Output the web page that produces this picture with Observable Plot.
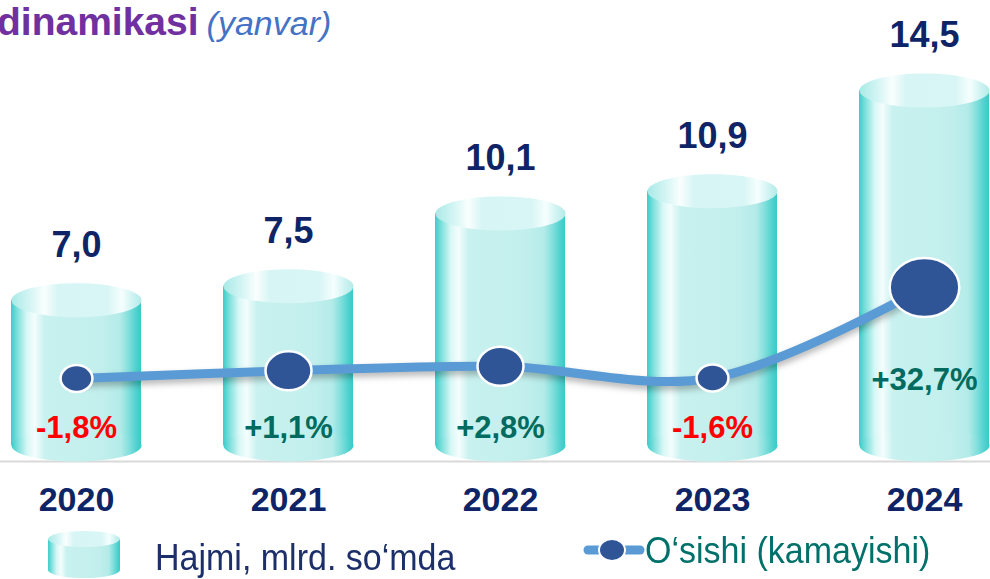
<!DOCTYPE html>
<html>
<head>
<meta charset="utf-8">
<script src="https://cdn.jsdelivr.net/npm/d3@7"></script>
<script src="https://cdn.jsdelivr.net/npm/@observablehq/plot@0.6"></script>
<style>
  html, body { margin: 0; padding: 0; background: #fff; }
  body { width: 990px; height: 579px; overflow: hidden; font-family: "Liberation Sans", Arial, sans-serif; }
  #wrap { position: relative; width: 990px; height: 579px; overflow: hidden; }
  #wrap > svg { position: absolute; left: 0; top: 0; }
  #title { position: absolute; left: -3px; top: 0px; white-space: nowrap; line-height: 44px; }
  #title .t1 { font-size: 39px; font-weight: bold; color: #7030a0; }
  #title .t2 { font-size: 34px; font-style: italic; color: #4472c4; margin-left: 8px; }
  #legend { position: absolute; left: 0; top: 520px; width: 990px; height: 59px; }
  .lg { position: absolute; white-space: nowrap; font-size: 34px; line-height: 34px; transform-origin: left center; transform: scaleY(1.1); }
  g[aria-label="line"] { filter: drop-shadow(0px 4px 3px rgba(0,0,0,0.28)); }
</style>
</head>
<body>
<div id="wrap"></div>
<script>
// ---- data ----
const years = ["2020", "2021", "2022", "2023", "2024"];
const volume = [7.0, 7.5, 10.1, 10.9, 14.5];          // Hajmi, mlrd. so'mda
const growth = [-1.8, 1.1, 2.8, -1.6, 32.7];          // O'sishi (kamayishi), %
const titleMain = "dinamikasi";
const titleSub = "(yanvar)";
const legendBars = "Hajmi, mlrd. so‘mda";
const legendLine = "O‘sishi (kamayishi)";

const data = years.map((year, i) => ({year, volume: volume[i], growth: growth[i]}));

const navy = "#0e2466";
const fmt1 = v => v.toFixed(1).replace(".", ",");
const fmtPct = v => (v > 0 ? "+" : "") + fmt1(v) + "%";

// ellipse symbol for Plot.dot (size = pi r^2)
function ellipseSymbol(kx, ky) {
  return {
    draw(ctx, size) {
      const r = Math.sqrt(size / Math.PI), rx = r * kx, ry = r * ky, k = 0.5523;
      ctx.moveTo(rx, 0);
      ctx.bezierCurveTo(rx, ry * k, rx * k, ry, 0, ry);
      ctx.bezierCurveTo(-rx * k, ry, -rx, ry * k, -rx, 0);
      ctx.bezierCurveTo(-rx, -ry * k, -rx * k, -ry, 0, -ry);
      ctx.bezierCurveTo(rx * k, -ry, rx, -ry * k, rx, 0);
      ctx.closePath();
    }
  };
}

function gradientDefs() {
  const defs = d3.create("svg:defs");
  const add = (id, stops) => {
    const g = defs.append("linearGradient").attr("id", id)
      .attr("x1", 0).attr("x2", 1).attr("y1", 0).attr("y2", 0);
    stops.forEach(([o, c]) => g.append("stop").attr("offset", o).attr("stop-color", c));
  };
  add("cylBody", [[0, "#3acdc9"], [0.05, "#7fe0dd"], [0.12, "#d6f7f5"], [0.18, "#f4fdfd"], [0.26, "#c8f1ef"],
                  [0.7, "#c2efed"], [0.84, "#b3ebe8"], [0.9, "#86e0dd"], [0.96, "#52d2cf"], [1, "#38cac6"]]);
  add("cylCap", [[0, "#a9e9e6"], [0.15, "#d6f6f5"], [0.25, "#fafefe"], [0.36, "#d6f5f4"], [0.74, "#d8f6f5"],
                 [0.85, "#f6fefe"], [0.93, "#d0f3f2"], [1, "#b2ebe8"]]);
  return defs.node();
}

const W = 990, H = 520;
const xScale = {type: "band", domain: years, range: [10, 990], paddingInner: 0.388, paddingOuter: 0, axis: null};
const yBase = 1.8;
const capRy = 17 / 65;

// ---- bars (cylinders) ----
const bars = Plot.plot({
  width: W, height: H, marginLeft: 0, marginRight: 0, marginTop: 0, marginBottom: 59,
  style: {background: "transparent", overflow: "visible"},
  x: xScale,
  y: {domain: [yBase, 14.5], range: [445, 90], axis: null},
  marks: [
    gradientDefs,
    Plot.ruleY([yBase], {dy: 16, stroke: "#d9d9d9", strokeWidth: 2}),
    Plot.barY(data, {x: "year", y1: () => yBase, y2: "volume", fill: "url(#cylBody)"}),
    Plot.dot(data, {x: "year", y: () => yBase, r: 65, symbol: ellipseSymbol(1, 16 / 65), fill: "url(#cylBody)", stroke: "none"}),
    Plot.dot(data, {x: "year", y: "volume", r: 65, symbol: ellipseSymbol(1, capRy), fill: "url(#cylCap)", stroke: "none"}),
    Plot.text(data, {x: "year", y: "volume", dy: -55, text: d => fmt1(d.volume), fontSize: 36, fontWeight: "bold",
                     fill: navy, fontFamily: "Liberation Sans, Arial, sans-serif"}),
    Plot.text(data, {x: "year", frameAnchor: "bottom", dy: 49, text: "year", fontSize: 34, fontWeight: "bold",
                     fill: navy, fontFamily: "Liberation Sans, Arial, sans-serif"})
  ]
});

// ---- growth line ----
const line = Plot.plot({
  width: W, height: H, marginLeft: 0, marginRight: 0, marginTop: 0, marginBottom: 59,
  style: {background: "transparent", overflow: "visible"},
  x: xScale,
  y: {domain: [-1.8, 32.7], range: [378, 287], axis: null},
  r: {type: "linear", domain: [0, 40], range: [0, 40]},
  marks: [
    Plot.line(data, {x: "year", y: "growth", curve: "catmull-rom", stroke: "#5b9bd5", strokeWidth: 9}),
    Plot.dot(data, {x: "year", y: "growth", r: d => d.growth < 0 ? 13.5 : d.growth < 10 ? 19.5 : 29.5,
                    symbol: ellipseSymbol(1.18, 1), fill: "#2f5597", stroke: "#fff", strokeWidth: 2.5}),
    Plot.text(data.filter(d => Math.abs(d.growth) < 10), {x: "year", frameAnchor: "bottom", dy: -24,
                    text: d => fmtPct(d.growth), fontSize: 31, fontWeight: "bold",
                    fill: d => d.growth < 0 ? "#ff0000" : "#006b5e", fontFamily: "Liberation Sans, Arial, sans-serif"}),
    Plot.text(data.filter(d => Math.abs(d.growth) >= 10), {x: "year", y: "growth", dy: 93,
                    text: d => fmtPct(d.growth), fontSize: 31, fontWeight: "bold",
                    fill: d => d.growth < 0 ? "#ff0000" : "#006b5e", fontFamily: "Liberation Sans, Arial, sans-serif"})
  ]
});

const wrap = document.getElementById("wrap");
wrap.append(bars, line);

// title
const title = document.createElement("div");
title.id = "title";
title.innerHTML = `<span class="t1">${titleMain}</span><span class="t2">${titleSub}</span>`;
wrap.append(title);

// legend
const legend = document.createElement("div");
legend.id = "legend";
legend.innerHTML = `
  <svg width="80" height="56" style="position:absolute;left:46px;top:10px">
    <rect x="2" y="9" width="72" height="31" fill="url(#cylBody)"></rect>
    <ellipse cx="38" cy="40" rx="36" ry="8" fill="url(#cylBody)"></ellipse>
    <ellipse cx="38" cy="9" rx="36" ry="8" fill="url(#cylCap)"></ellipse>
  </svg>
  <div class="lg" style="left:155px;top:20px;color:#1c2f6b">${legendBars}</div>
  <svg width="64" height="30" style="position:absolute;left:582px;top:15px">
    <line x1="6" y1="15" x2="58" y2="15" stroke="#5b9bd5" stroke-width="9" stroke-linecap="round"></line>
    <ellipse cx="30" cy="15" rx="13" ry="11" fill="#2f5597" stroke="#fff" stroke-width="2"></ellipse>
  </svg>
  <div class="lg" style="left:645px;top:13px;color:#00706a">${legendLine}</div>`;
wrap.append(legend);
</script>
</body>
</html>
